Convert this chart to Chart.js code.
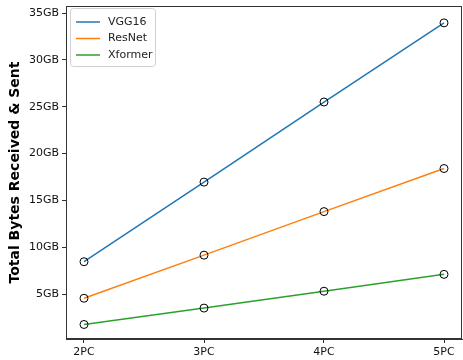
<!DOCTYPE html>
<html>
<head>
<meta charset="utf-8">
<script src="https://cdn.jsdelivr.net/npm/chart.js@4"></script>
<style>
  html, body { margin: 0; padding: 0; background: #fff; }
  #wrap { width: 463px; height: 360px; }
</style>
</head>
<body>
<div id="wrap"><canvas id="myChart" width="463" height="360"></canvas></div>
<script>
const categories = ["2PC", "3PC", "4PC", "5PC"];
const vgg16 = [8.45, 16.95, 25.5, 33.95];
const resnet = [4.55, 9.15, 13.8, 18.4];
const xformer = [1.75, 3.5, 5.3, 7.1];
const yTicks = [5, 10, 15, 20, 25, 30, 35];

const seriesNames = ["VGG16", "ResNet", "Xformer"];
const seriesColors = ["#1f77b4", "#ff7f0e", "#2ca02c"];
const seriesValues = [vgg16, resnet, xformer];

// frame round the plot + legend box inside it
const framePlugin = {
  id: "frame",
  afterDraw(chart) {
    const {ctx, chartArea: a} = chart;
    ctx.save();
    ctx.strokeStyle = "#333";
    ctx.lineWidth = 1;
    ctx.strokeRect(Math.round(a.left) + 0.5, Math.round(a.top) + 0.5,
      Math.round(a.right - a.left) - 1, Math.round(a.bottom - a.top) - 1);

    const bx = a.left + 4, by = a.top + 2, bw = 85, bh = 58;
    ctx.fillStyle = "rgba(255,255,255,0.8)";
    ctx.strokeStyle = "#d0d0d0";
    ctx.beginPath();
    ctx.roundRect(bx + 0.5, by + 0.5, bw, bh, 3);
    ctx.fill();
    ctx.stroke();
    ctx.font = "11px 'DejaVu Sans'";
    ctx.textBaseline = "middle";
    seriesNames.forEach((name, i) => {
      const y = by + 14 + i * 16.5;
      ctx.strokeStyle = seriesColors[i];
      ctx.lineWidth = 1.5;
      ctx.beginPath();
      ctx.moveTo(bx + 6, y);
      ctx.lineTo(bx + 30, y);
      ctx.stroke();
      ctx.fillStyle = "#222";
      ctx.fillText(name, bx + 38, y);
    });
    ctx.restore();
  }
};

new Chart("myChart", {
  type: "line",
  data: {
    datasets: seriesNames.map((name, i) => ({
      label: name,
      data: seriesValues[i].map((v, j) => ({x: j + 2, y: v})),
      borderColor: seriesColors[i],
      borderWidth: 1.5,
      pointRadius: 4,
      pointBorderWidth: 1,
      pointBorderColor: "#000",
      pointBackgroundColor: "rgba(0,0,0,0)",
      tension: 0
    }))
  },
  options: {
    responsive: false,
    animation: false,
    layout: {autoPadding: false, padding: {top: 6, right: 1, left: 0, bottom: 0}},
    plugins: {legend: {display: false}, tooltip: {enabled: false}},
    scales: {
      x: {
        type: "linear",
        min: 1.85,
        max: 5.15,
        afterBuildTicks: s => { s.ticks = categories.map((c, j) => ({value: j + 2})); },
        afterFit: s => { s.height = 21; s.paddingLeft = 0; s.paddingRight = 0; },
        ticks: {
          callback: v => categories[v - 2],
          color: "#111",
          font: {family: "DejaVu Sans", size: 11},
          padding: 3,
          maxRotation: 0
        },
        grid: {drawOnChartArea: false, drawTicks: true, tickLength: 4, color: "#333"},
        border: {display: true, color: "#333"}
      },
      y: {
        type: "linear",
        min: 0.2,
        max: 35.75,
        afterBuildTicks: s => { s.ticks = yTicks.map(v => ({value: v})); },
        afterFit: s => { s.width = 66; s.paddingTop = 0; s.paddingBottom = 0; },
        ticks: {
          callback: v => v + "GB",
          color: "#111",
          font: {family: "DejaVu Sans", size: 11},
          padding: 3
        },
        grid: {drawOnChartArea: false, drawTicks: true, tickLength: 4, color: "#333"},
        border: {display: true, color: "#333"},
        title: {
          display: true,
          text: "Total Bytes Received & Sent",
          color: "#000",
          font: {family: "DejaVu Sans", size: 14, weight: "bold"},
          padding: {top: 7, bottom: 4}
        }
      }
    }
  },
  plugins: [framePlugin]
});
</script>
</body>
</html>
